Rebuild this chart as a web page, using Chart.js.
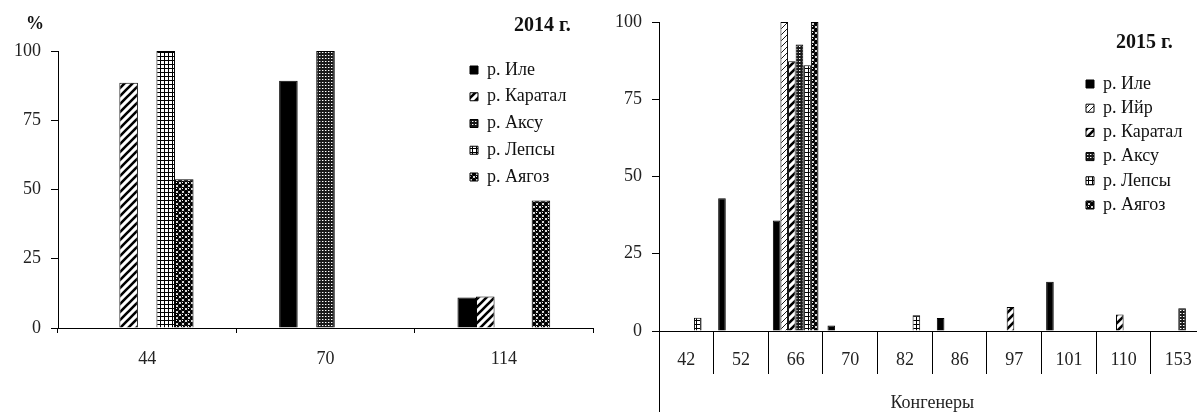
<!DOCTYPE html>
<html>
<head>
<meta charset="utf-8">
<script src="https://cdn.jsdelivr.net/npm/chart.js@4.4.0/dist/chart.umd.min.js"></script>
<style>
  html, body { margin: 0; padding: 0; background: #fff; overflow: hidden; }
  #wrap { position: relative; width: 1197px; height: 412px; overflow: hidden; font-family: "Liberation Serif", "Times New Roman", serif; color: #111; }
  #c14 { position: absolute; left: 0; top: 0; }
  #c15 { position: absolute; left: 600px; top: 0; }
  .lbl { position: absolute; font-weight: bold; white-space: nowrap; line-height: 1; }
</style>
</head>
<body>
<div id="wrap">
  <canvas id="c14" width="600" height="412"></canvas>
  <canvas id="c15" width="610" height="412"></canvas>
  <div class="lbl" style="left:26px;top:14px;font-size:18px">%</div>
  <div class="lbl" style="left:514px;top:14px;font-size:20px">2014 г.</div>
  <div class="lbl" style="left:1116px;top:31px;font-size:20px">2015 г.</div>
</div>
<script>
// 2014 - share of congeners by river, %
const cat2014 = ['44', '70', '114'];
const ile2014 = [null, 89.3, 11];
const karatal2014 = [88.5, null, 11.4];
const aksu2014 = [null, 100, null];
const lepsy2014 = [100, null, null];
const ayagoz2014 = [53.7, null, 46];

// 2015
const cat2015 = ['42', '52', '66', '70', '82', '86', '97', '101', '110', '153'];
const ile2015 = [null, 43, 35.8, 1.8, null, 4.2, null, 15.9, null, null];
const iyr2015 = [null, null, 100, null, null, null, null, null, null, null];
const karatal2015 = [null, null, 87.3, null, null, null, 7.8, null, 5.3, null];
const aksu2015 = [null, null, 92.7, null, null, null, null, null, null, 7.4];
const lepsy2015 = [4.3, null, 86, null, 5.1, null, null, null, null, null];
const ayagoz2015 = [null, null, 100, null, null, null, null, null, null, null];

const yMin = 0, yMax = 100, yStep = 25;

const SERIF = '"Liberation Serif", "Times New Roman", serif';
Chart.defaults.font.family = SERIF;
Chart.defaults.animation = false;

// --- fill patterns (monochrome, like the printed figure)
function makePattern(size, draw) {
    const c = document.createElement('canvas');
    c.width = c.height = size;
    const g = c.getContext('2d');
    g.fillStyle = '#fff';
    g.fillRect(0, 0, size, size);
    draw(g, size);
    return g.createPattern(c, 'repeat');
}

function stripes(size, width) {
    return makePattern(size, (g, s) => {
        g.strokeStyle = '#000';
        g.lineWidth = width;
        g.beginPath();
        g.moveTo(-s / 2, s / 2); g.lineTo(s / 2, -s / 2);
        g.moveTo(0, s); g.lineTo(s, 0);
        g.moveTo(s / 2, s * 1.5); g.lineTo(s * 1.5, s / 2);
        g.stroke();
    });
}

const fillIle = '#000';
const fillIyr = stripes(6, 0.9);
const fillKaratal = stripes(8, 2.6);
const fillAksu = makePattern(3, (g) => {
    g.fillStyle = '#1a1a1a'; g.fillRect(0, 0, 3, 3);
    g.fillStyle = '#fff'; g.fillRect(1, 1, 1, 1);
    g.fillStyle = '#777'; g.fillRect(2, 1, 1, 1);
});
const fillLepsy = makePattern(4, (g) => {
    g.fillStyle = '#000';
    g.fillRect(0, 0, 4, 1);
    g.fillRect(0, 0, 1, 4);
});
const fillAyagoz = makePattern(6, (g) => {
    g.fillStyle = '#000';
    [[3, 3], [0, 0], [6, 0], [0, 6], [6, 6]].forEach(([x, y]) => {
        g.beginPath(); g.arc(x, y, 2.2, 0, Math.PI * 2); g.fill();
    });
    g.fillStyle = '#fff';
    g.fillRect(2, 2, 1, 1);
});

function bars(label, data, fill) {
    return { label: label, data: data, backgroundColor: fill, borderColor: '#000', borderWidth: 1 };
}

// put the legend where the figure has it (inside the plot, upper right)
const legendSpot = {
    id: 'legendSpot',
    afterLayout(chart, args, opts) {
        const lg = chart.legend;
        const pad = lg.options.labels.padding;
        lg.left = opts.x - pad;
        lg.top = opts.y - pad;
        lg.right = lg.left + 160;
        lg.bottom = lg.top + 260;
        lg.width = 160;
        lg.height = 260;
    }
};

// y axis line continues below the category row (2015 panel)
const axisTail = {
    id: 'axisTail',
    afterDraw(chart) {
        const { ctx, chartArea, height } = chart;
        const x = Math.round(chartArea.left) + 0.5;
        ctx.save();
        ctx.strokeStyle = '#000';
        ctx.lineWidth = 1;
        ctx.beginPath();
        ctx.moveTo(x, chartArea.bottom);
        ctx.lineTo(x, height);
        ctx.stroke();
        ctx.restore();
    }
};

function yScale(width) {
    return {
        min: yMin, max: yMax,
        ticks: { stepSize: yStep, color: '#222', padding: 10, font: { size: 18 } },
        grid: { drawOnChartArea: false, drawTicks: true, tickLength: 7, color: '#000' },
        border: { color: '#000', width: 1 },
        afterFit: s => { s.width = width; }
    };
}

function legendOpts(padding) {
    return {
        position: 'chartArea',
        align: 'start',
        labels: {
            boxWidth: 8, boxHeight: 8, padding: padding, color: '#111', textAlign: 'left',
            font: { family: SERIF, size: 18 }
        }
    };
}

new Chart(document.getElementById('c14'), {
    type: 'bar',
    data: {
        labels: cat2014,
        datasets: [
            bars('р. Иле', ile2014, fillIle),
            bars('р. Каратал', karatal2014, fillKaratal),
            bars('р. Аксу', aksu2014, fillAksu),
            bars('р. Лепсы', lepsy2014, fillLepsy),
            bars('р. Аягоз', ayagoz2014, fillAyagoz)
        ]
    },
    options: {
        responsive: false,
        layout: { padding: { top: 51, right: 7, bottom: 0, left: 0 } },
        datasets: { bar: { categoryPercentage: 0.52, barPercentage: 1 } },
        plugins: {
            legend: legendOpts(8.75),
            legendSpot: { x: 470, y: 61 },
            tooltip: { enabled: false }
        },
        scales: {
            x: {
                grid: { drawOnChartArea: false, drawTicks: true, tickLength: 5, color: '#000' },
                border: { color: '#000', width: 1 },
                ticks: { color: '#222', padding: 15, maxRotation: 0, font: { size: 18 } },
                afterFit: s => { s.height = 84; }
            },
            y: yScale(58)
        }
    },
    plugins: [legendSpot]
});

new Chart(document.getElementById('c15'), {
    type: 'bar',
    data: {
        labels: cat2015,
        datasets: [
            bars('р. Иле', ile2015, fillIle),
            bars('р. Ийр', iyr2015, fillIyr),
            bars('р. Каратал', karatal2015, fillKaratal),
            bars('р. Аксу', aksu2015, fillAksu),
            bars('р. Лепсы', lepsy2015, fillLepsy),
            bars('р. Аягоз', ayagoz2015, fillAyagoz)
        ]
    },
    options: {
        responsive: false,
        layout: { padding: { top: 22, right: 4, bottom: 0, left: 0 } },
        datasets: { bar: { categoryPercentage: 0.835, barPercentage: 1 } },
        plugins: {
            legend: legendOpts(6.2),
            legendSpot: { x: 486, y: 75 },
            tooltip: { enabled: false }
        },
        scales: {
            // category separators hanging below the axis
            sep: {
                type: 'category',
                position: 'bottom',
                weight: 0,
                offset: true,
                grid: { offset: true, drawOnChartArea: false, drawTicks: true, tickLength: 43, color: '#000' },
                border: { display: false },
                ticks: { display: false },
                afterFit: s => { s.height = 0; }
            },
            x: {
                weight: 1,
                grid: { drawOnChartArea: false, drawTicks: false, color: '#000' },
                border: { color: '#000', width: 1 },
                ticks: { color: '#222', padding: 18, maxRotation: 0, font: { size: 18 } },
                title: { display: true, text: 'Конгенеры', color: '#222', padding: 0, font: { size: 18, lineHeight: 1 } },
                afterFit: s => { s.height = 81; }
            },
            y: yScale(59)
        }
    },
    plugins: [legendSpot, axisTail]
});
</script>
</body>
</html>
